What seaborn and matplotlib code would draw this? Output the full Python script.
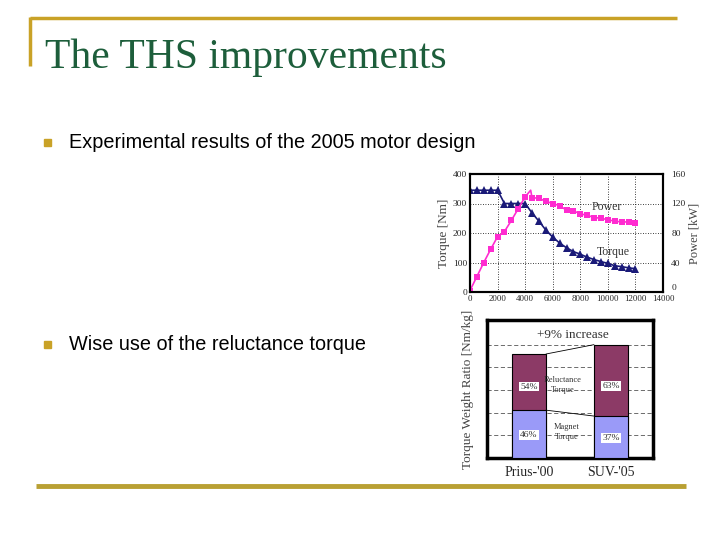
import matplotlib
matplotlib.use("Agg")
import matplotlib.pyplot as plt
from matplotlib.patches import Rectangle
import pandas as pd
import seaborn as sns

# torque / power curves of the 2005 motor
rpm = [0, 500, 1000, 1500, 2000, 2500, 3000, 3500, 4000, 4500, 5000, 5500, 6000,
       6500, 7000, 7500, 8000, 8500, 9000, 9500, 10000, 10500, 11000, 11500, 12000]
torque_nm = [345, 345, 345, 345, 345, 300, 300, 300, 300, 268, 240, 210, 186,
             166, 150, 137, 128, 118, 110, 103, 97, 89, 86, 82, 79]
power_rpm = [0, 500, 1000, 1500, 2000, 2500, 3000, 3500, 4000, 4400, 4500, 5000, 5500,
             6000, 6500, 7000, 7500, 8000, 8500, 9000, 9500, 10000, 10500, 11000, 11500, 12000]
power_kw = [2, 21, 40, 58, 75, 82, 97, 113, 129, 138, 128, 127, 123,
            120, 117, 111, 110, 106, 104, 101, 100, 98, 96, 95, 95, 93]

# torque weight ratio, Prius-'00 = 1
cars = ["Prius-'00", "SUV-'05"]
ratio_total = [1.0, 1.09]
magnet_share = [0.46, 0.37]
reluct_share = [0.54, 0.63]

GOLD = "#C9A227"
GREEN = "#1d5e3b"
SERIF = ["Liberation Serif", "DejaVu Serif"]

sns.set_theme(style="white")
plt.rcParams["font.family"] = ["Liberation Sans", "DejaVu Sans"]

fig = plt.figure(figsize=(7.2, 5.4), dpi=100)

# slide background in pixel coordinates
bg = fig.add_axes([0, 0, 1, 1], zorder=0)
bg.set_xlim(0, 720)
bg.set_ylim(540, 0)
bg.axis("off")
bg.plot([30, 677], [18, 18], color=GOLD, lw=2.5, solid_capstyle="butt")
bg.plot([30, 30], [17, 66], color=GOLD, lw=2.5, solid_capstyle="butt")
bg.plot([36, 686], [486, 486], color="#B9A033", lw=3.5, solid_capstyle="butt")
bg.text(45, 68, "The THS improvements", fontsize=30, family=SERIF, color=GREEN, va="baseline")
for y, txt in [(142, "Experimental results of the 2005 motor design"),
               (344, "Wise use of the reluctance torque")]:
    bg.add_patch(Rectangle((44, y - 3.5), 7, 7, color=GOLD))
    bg.text(69, y, txt, fontsize=14.3, va="center", color="black")

# --- torque / power chart
ax = fig.add_axes([470 / 720, 1 - 292 / 540, 193 / 720, 118 / 540], zorder=2)
curve = pd.DataFrame({"rpm": rpm, "torque": torque_nm})
pcurve = pd.DataFrame({"rpm": power_rpm, "power": power_kw})
sns.lineplot(data=curve, x="rpm", y="torque", ax=ax, color="#1a1a78", marker="^",
             markersize=5.5, markeredgewidth=0, lw=1.2)
ax2 = ax.twinx()
peak = power_kw.index(max(power_kw))
sns.lineplot(data=pcurve, x="rpm", y="power", ax=ax2, color="#ff2bd0", marker="s",
             markersize=4.8, markeredgewidth=0, lw=1.2,
             markevery=[i for i in range(len(power_kw)) if i != peak])
ax.set_xlim(0, 14000)
ax.set_ylim(0, 400)
ax2.set_ylim(0, 160)
ax.set_xticks(range(0, 14001, 2000))
ax.set_yticks(range(0, 401, 100))
ax2.set_yticks(range(0, 161, 40))
ax.grid(True, color="black", ls=(0, (1, 2)), lw=0.6)
ax.set_facecolor("white")
for a in (ax, ax2):
    for s in a.spines.values():
        s.set_color("black")
        s.set_linewidth(1.5)
    a.tick_params(length=0, pad=2, labelsize=6.8)
    for lab in a.get_xticklabels() + a.get_yticklabels():
        lab.set_family(SERIF)
ax.tick_params(axis="x", labelsize=6.4)
ax2.tick_params(axis="y", pad=6)
# lift the right-hand "0" so it clears the last rpm label
ax2.get_yticklabels()[0].set_va("bottom")
ax.set_xlabel("")
ax.set_ylabel("Torque [Nm]", family=SERIF, fontsize=9.5, color="#444444", labelpad=2)
ax2.set_ylabel("Power [kW]", family=SERIF, fontsize=9, color="#444444", labelpad=2)
ax.text(9900, 288, "Power", family=SERIF, fontsize=8.5, ha="center", va="center", color="#333333")
ax.text(10400, 136, "Torque", family=SERIF, fontsize=8.5, ha="center", va="center", color="#333333")

# --- torque weight ratio chart
bx = fig.add_axes([487 / 720, 1 - 458 / 540, 166 / 720, 138 / 540], zorder=2)
bars = pd.DataFrame({
    "car": cars,
    "total": ratio_total,
    "magnet": [t * m for t, m in zip(ratio_total, magnet_share)],
})
w = 0.415
sns.barplot(data=bars, x="car", y="total", ax=bx, color="#8c3a66", width=w,
            edgecolor="black", linewidth=0.8, saturation=1, zorder=3)
sns.barplot(data=bars, x="car", y="magnet", ax=bx, color="#9a9af8", width=w,
            edgecolor="black", linewidth=0.8, saturation=1, zorder=3)
bx.set_xlim(-0.512, 1.512)
bx.set_ylim(0, 1.327)
step = ratio_total[1] / 5
bx.set_yticks([step * k for k in range(1, 6)])
bx.grid(True, axis="y", color="#555555", ls=(0, (5, 3)), lw=0.6, zorder=0)
bx.set_yticklabels([])
bx.tick_params(length=0, axis="y")
bx.tick_params(axis="x", length=0, pad=6, labelsize=10)
for lab in bx.get_xticklabels():
    lab.set_family(SERIF)
bx.set_xlabel("")
bx.set_ylabel("Torque Weight Ratio [Nm/kg]", family=SERIF, fontsize=9.5, color="#444444", labelpad=6)
for s in bx.spines.values():
    s.set_color("black")
    s.set_linewidth(2.5)

# connecting lines between bars
bx.plot([w / 2, 1 - w / 2], [ratio_total[0], ratio_total[1]], color="black", lw=0.6, zorder=4)
bx.plot([w / 2, 1 - w / 2], [bars["magnet"][0], bars["magnet"][1]], color="black", lw=0.6, zorder=4)

box = dict(facecolor="white", edgecolor="none", pad=0.6)
for i in range(2):
    mag = bars["magnet"][i]
    rel = ratio_total[i] - mag
    bx.text(i, mag + 0.42 * rel, f"{round(reluct_share[i] * 100)}%", ha="center", va="center",
            family=SERIF, fontsize=6.8, color="#333333", bbox=box, zorder=5)
    bx.text(i, 0.48 * mag, f"{round(magnet_share[i] * 100)}%", ha="center", va="center",
            family=SERIF, fontsize=6.8, color="#333333", bbox=box, zorder=5)
bx.text(0.41, 0.70, "Reluctance\nTorque", ha="center", va="center", family=SERIF,
        fontsize=6, color="#333333", linespacing=1.3, zorder=5)
bx.text(0.46, 0.25, "Magnet\nTorque", ha="center", va="center", family=SERIF,
        fontsize=6, color="#333333", linespacing=1.3, zorder=5)
bx.text(0.54, 1.18, "+9% increase", ha="center", va="center", family=SERIF,
        fontsize=9.5, color="#333333", zorder=5)

fig.savefig("out.png", dpi=100)
